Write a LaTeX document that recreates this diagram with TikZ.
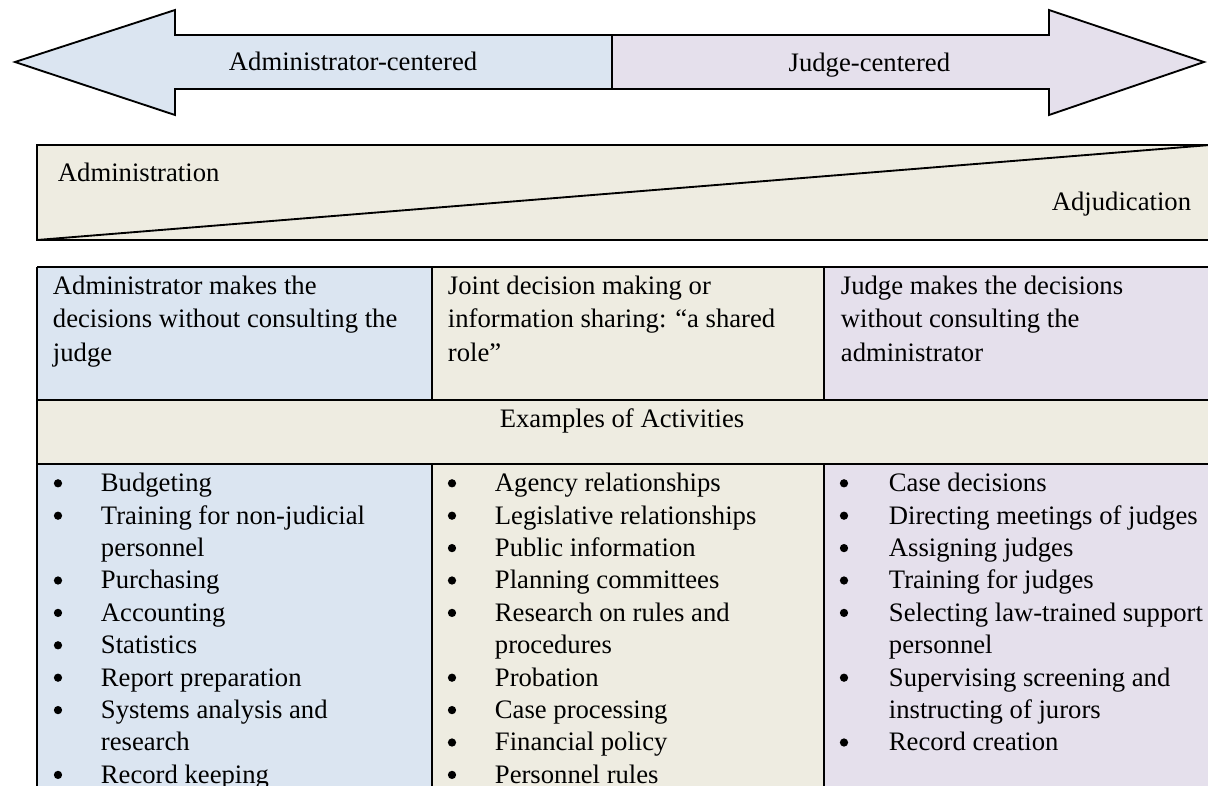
\documentclass[tikz,border=0pt]{standalone}
\usepackage{fontspec}
\setmainfont{Liberation Serif}
\definecolor{adminblue}{RGB}{219,229,241}
\definecolor{judgelilac}{RGB}{229,224,236}
\definecolor{sharedtan}{RGB}{238,236,225}
\begin{document}
\begin{tikzpicture}[x=0.75pt,y=-0.75pt,line width=1.4pt,
  txt/.style={inner sep=0pt,anchor=base west,font=\fontsize{20}{24}\selectfont},
  txtr/.style={txt,anchor=base east},
  txtc/.style={txt,anchor=base},
  dot/.style={circle,fill=black,draw=none,inner sep=0pt,minimum size=6.2pt}]
\useasboundingbox (0,0) rectangle (1208,786);
\clip (0,0) rectangle (1208,786);

% double-headed arrow, split into two halves
\fill[adminblue] (15,62) -- (175,10) -- (175,35) -- (612,35) -- (612,89) -- (175,89) -- (175,115) -- cycle;
\fill[judgelilac] (612,35) -- (1049,35) -- (1049,10) -- (1204,62) -- (1049,115) -- (1049,89) -- (612,89) -- cycle;
\draw (15,62) -- (175,10) -- (175,35) -- (1049,35) -- (1049,10) -- (1204,62) -- (1049,115) -- (1049,89) -- (175,89) -- (175,115) -- cycle;
\draw (612,35) -- (612,89);
\node[txt] (admc) at (228,70) {Administrator-centered};
\node[txtr] (judc) at (951,71) {Judge-centered};

% administration / adjudication wedge
\draw[fill=sharedtan] (37,145) rectangle (1220,240);
\draw (37,240) -- (1210,145);
\node[txt] (admin) at (57,181) {Administration};
\node[txtr] (adjud) at (1192,210) {Adjudication};

% table cells
\fill[adminblue] (37,267) rectangle (432,400);
\fill[sharedtan] (432,267) rectangle (824,400);
\fill[judgelilac] (824,267) rectangle (1220,400);
\fill[sharedtan] (37,400) rectangle (1220,464);
\fill[adminblue] (37,464) rectangle (432,800);
\fill[sharedtan] (432,464) rectangle (824,800);
\fill[judgelilac] (824,464) rectangle (1220,800);
% table rules
\draw (37,267) -- (1220,267);
\draw (37,400) -- (1220,400);
\draw (37,464) -- (1220,464);
\draw (37,267) -- (37,800);
\draw (432,267) -- (432,400) (432,464) -- (432,800);
\draw (824,267) -- (824,400) (824,464) -- (824,800);

% header row
\foreach \i/\t in {0/Administrator makes the,1/decisions without consulting the,2/judge}
  \node[txt] (ha\i) at (52,294+33.5*\i) {\t};
\foreach \i/\t in {0/Joint decision making or,1/information sharing: “a shared,2/role”}
  \node[txt] (hs\i) at (447,294+33.5*\i) {\t};
\foreach \i/\t in {0/Judge makes the decisions,1/without consulting the,2/administrator}
  \node[txt] (hj\i) at (840,294+33.5*\i) {\t};

\node[txtc] (examples) at (622,427) {Examples of Activities};

% activity lists: text lines, with a bullet where an item starts
\foreach \i/\b/\t in {0/1/Budgeting,1/1/Training for non-judicial,2/0/personnel,3/1/Purchasing,
  4/1/Accounting,5/1/Statistics,6/1/Report preparation,7/1/Systems analysis and,8/0/research,9/1/Record keeping}{
  \node[txt] (la\i) at (100,491.7+32.4*\i) {\t};
  \ifnum\b=1 \node[dot] (lb\i) at (58,483.3+32.4*\i) {}; \fi
}
\foreach \i/\b/\t in {0/1/Agency relationships,1/1/Legislative relationships,2/1/Public information,
  3/1/Planning committees,4/1/Research on rules and,5/0/procedures,6/1/Probation,7/1/Case processing,
  8/1/Financial policy,9/1/Personnel rules}{
  \node[txt] (ma\i) at (494,491.7+32.4*\i) {\t};
  \ifnum\b=1 \node[dot] (mb\i) at (452,483.3+32.4*\i) {}; \fi
}
\foreach \i/\b/\t in {0/1/Case decisions,1/1/Directing meetings of judges,2/1/Assigning judges,
  3/1/Training for judges,4/1/Selecting law-trained support,5/0/personnel,6/1/Supervising screening and,
  7/0/instructing of jurors,8/1/Record creation}{
  \node[txt] (ra\i) at (888,491.7+32.4*\i) {\t};
  \ifnum\b=1 \node[dot] (rb\i) at (844,483.3+32.4*\i) {}; \fi
}
\end{tikzpicture}
\end{document}
